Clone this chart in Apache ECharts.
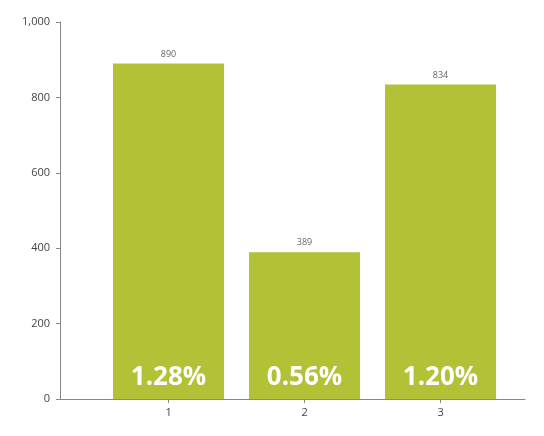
<!DOCTYPE html>
<html><head><meta charset="utf-8">
<script src="https://cdn.jsdelivr.net/npm/echarts@6/dist/echarts.min.js"></script>
<style>html,body{margin:0;padding:0;background:#fff}#c{width:544px;height:436px}</style>
</head><body><div id="c"></div>
<script>
var categories = [1, 2, 3]
var values = [890, 389, 834]
var shadows = [860, 366, 809]
var percents = ['1.28%', '0.56%', '1.20%']
var yTicks = [0, 200, 400, 600, 800, 1000]

var chart = echarts.init(document.getElementById('c'))
var font = '"Open Sans", sans-serif'

chart.setOption({
	animation: false,
	grid: { left: 60, right: 19, top: 22, bottom: 37 },
	xAxis: {
		type: 'value',
		min: 0.202,
		max: 3.621,
		splitLine: { show: false },
		axisLine: { lineStyle: { color: '#888' } },
		axisTick: { customValues: categories, length: 4, lineStyle: { color: '#888' } },
		axisLabel: { customValues: categories, color: '#444', fontSize: 11, fontFamily: font, margin: 8 }
	},
	yAxis: {
		type: 'value',
		min: 0,
		max: 1000,
		interval: 200,
		splitLine: { show: false },
		axisLine: { show: true, lineStyle: { color: '#888' } },
		axisTick: { show: true, length: 4, lineStyle: { color: '#888' } },
		axisLabel: { color: '#444', fontSize: 11, fontFamily: font, margin: 10 }
	},
	series: [{
		type: 'bar',
		z: 3,
		barWidth: 111,
		barGap: '-89%',
		itemStyle: { color: '#b2c135' },
		data: categories.map(function (c, i) { return [c, values[i]] }),
		label: {
			show: true,
			position: 'top',
			color: '#666',
			fontSize: 9,
			fontFamily: font,
			formatter: function (p) { return p.value[1] }
		}
	}, {
		type: 'bar',
		z: 2,
		barWidth: 111,
		itemStyle: { color: '#d9d9d9' },
		data: categories.map(function (c, i) { return [c, shadows[i]] })
	}, {
		// 百分比标签
		type: 'bar',
		z: 4,
		barWidth: 111,
		barGap: '-100%',
		itemStyle: { color: 'transparent' },
		data: categories.map(function (c, i) { return [c, values[i]] }),
		label: {
			show: true,
			position: 'insideBottom',
			distance: 8,
			color: '#fff',
			fontSize: 26,
			fontWeight: 'bold',
			fontFamily: font,
			formatter: function (p) { return percents[p.dataIndex] }
		}
	}]
})
</script></body></html>
